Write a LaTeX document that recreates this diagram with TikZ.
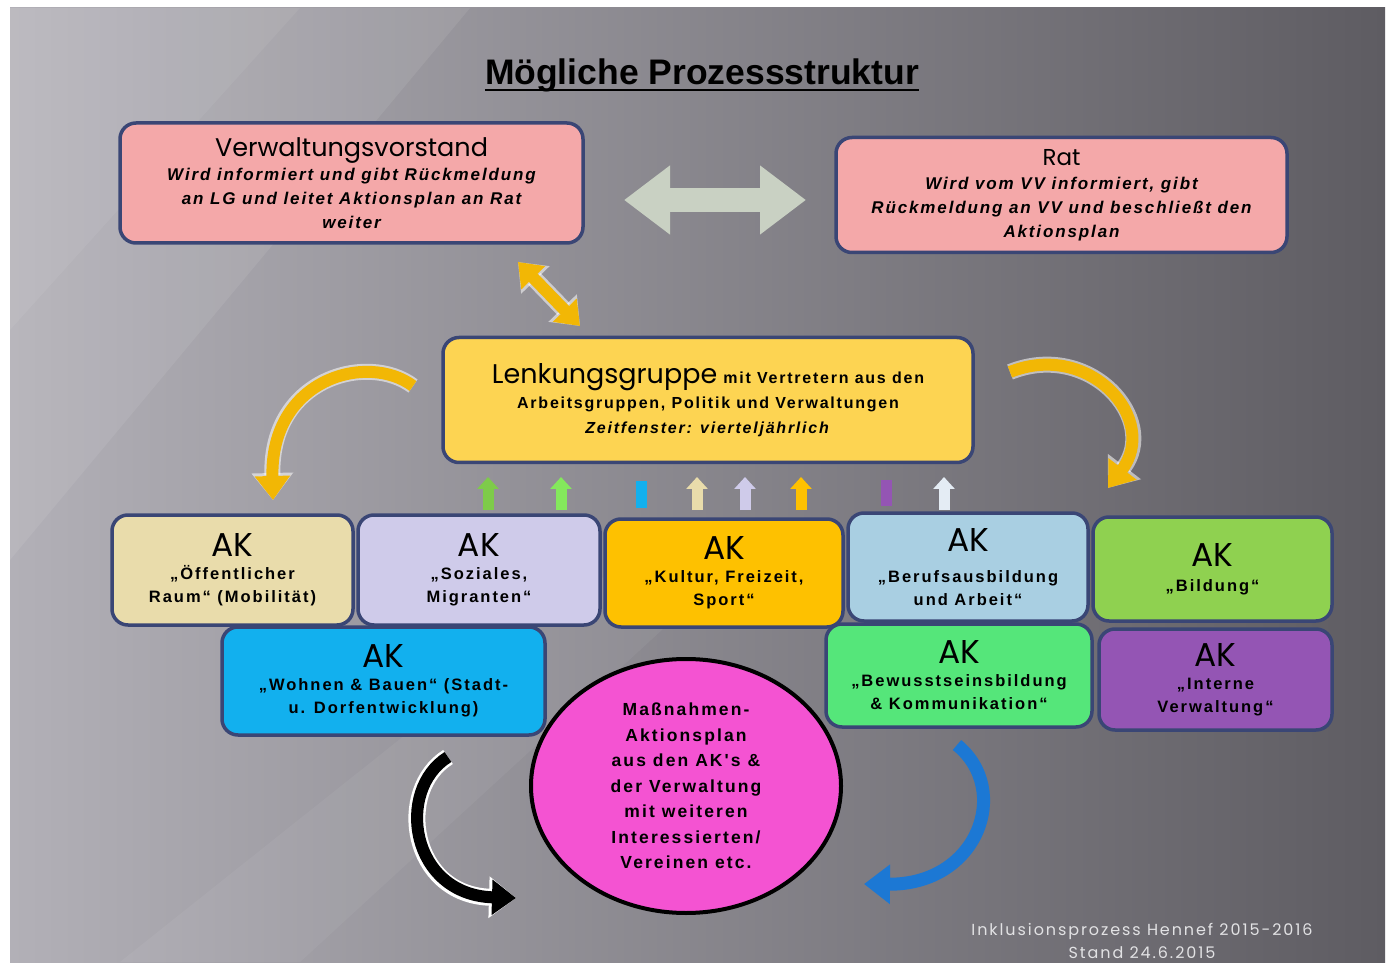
\documentclass[tikz,border=0pt]{standalone}
\usepackage{fontspec}
\setmainfont{Liberation Sans}
\newfontfamily\gothic{Poppins}
\newfontfamily\gothicsp[LetterSpace=12]{Poppins}
\newfontfamily\spA[LetterSpace=11]{Liberation Sans}
\newfontfamily\spB[LetterSpace=12]{Liberation Sans}
\newfontfamily\titlefont{Liberation Sans}
\usetikzlibrary{arrows.meta,shapes.geometric}
\definecolor{bgL}{HTML}{B2B0B7}
\definecolor{bgM}{HTML}{88868C}
\definecolor{bgR}{HTML}{5E5C62}
\definecolor{bordc}{HTML}{3A4675}
\definecolor{pinkc}{HTML}{F4A8A9}
\definecolor{yelc}{HTML}{FDD452}
\definecolor{beigec}{HTML}{E9DCAB}
\definecolor{lavc}{HTML}{CFCBEA}
\definecolor{orc}{HTML}{FEC100}
\definecolor{lbluec}{HTML}{A9CFE2}
\definecolor{grc}{HTML}{8FD150}
\definecolor{cyanc}{HTML}{12B0EE}
\definecolor{mintc}{HTML}{55E67A}
\definecolor{purc}{HTML}{9455B4}
\definecolor{magc}{HTML}{F453D2}
\definecolor{arrgray}{HTML}{C9D1C3}
\definecolor{arror}{HTML}{F2B705}
\definecolor{arrblue}{HTML}{1C78D4}
\definecolor{footc}{HTML}{E2E2E4}
\definecolor{upg1}{HTML}{7ECB4A}
\definecolor{upg2}{HTML}{84E85C}
\definecolor{upwh}{HTML}{E4ECF4}
\begin{document}
\begin{tikzpicture}[x=1pt,y=-1pt,
  box/.style={draw=bordc, line width=3.5pt, rounded corners=16pt, align=center, inner sep=0pt},
  akbox/.style={box, font=\spB\bfseries\fontsize{16.5}{23}\selectfont},
  upar/.style={line width=11pt, -{Triangle[length=12pt,width=21pt]}},
  upbar/.style={line width=11pt},
  halo/.style={draw=white, draw opacity=0.55},
  bigtip/.style={-{Triangle[length=24pt,width=34pt]}},
  halotip/.style={-{Triangle[length=27pt,width=40pt]}}]
\newcommand\AKhead{{\gothic\mdseries\fontsize{33}{28}\selectfont AK}}
\useasboundingbox (0,0) rectangle (1393,965);
\fill[white] (0,0) rectangle (1393,965);
\shade[left color=bgL, middle color=bgM, right color=bgR] (10,8) rectangle (1385,962);
\fill[white, opacity=0.08] (10,8) -- (470,8) -- (10,560) -- cycle;
\fill[white, opacity=0.06] (10,8) -- (300,8) -- (10,330) -- cycle;
\fill[white, opacity=0.05] (120,962) -- (300,962) -- (760,540) -- (650,540) -- cycle;

% title
\node[anchor=base, inner sep=0pt, font=\titlefont\bfseries\fontsize{35.5}{37}\selectfont] (title) at (702,85) {Mögliche Prozessstruktur};
\draw[line width=2.5pt] ([yshift=-5pt]title.base west) -- ([yshift=-5pt]title.base east);

% top boxes
\node[box, fill=pinkc, minimum width=463pt, minimum height=120pt, font=\spA\bfseries\itshape\fontsize{17}{24}\selectfont] (vv) at (351.5,183)
  {{\gothic\upshape\mdseries\fontsize{25.5}{25}\selectfont Verwaltungsvorstand}\\Wird informiert und gibt Rückmeldung\\an LG und leitet Aktionsplan an Rat\\weiter};
\node[box, fill=pinkc, minimum width=451pt, minimum height=115pt, font=\spA\bfseries\itshape\fontsize{17}{24}\selectfont] (rat) at (1061.5,195)
  {{\gothic\upshape\mdseries\fontsize{23}{25}\selectfont Rat}\\Wird vom VV informiert, gibt\\Rückmeldung an VV und beschließt den\\Aktionsplan};

% Lenkungsgruppe
\node[box, fill=yelc, minimum width=530pt, minimum height=125pt, font=\spA\bfseries\fontsize{16}{25}\selectfont] (lg) at (708,400)
  {{\gothic\mdseries\fontsize{27}{27}\selectfont Lenkungsgruppe} mit Vertretern aus den\\Arbeitsgruppen, Politik und Verwaltungen\\\textit{Zeitfenster: vierteljährlich}};

% AK row 1
\node[akbox, fill=beigec, minimum width=241pt, minimum height=110pt] (ak1) at (232.5,570)
  {\AKhead\\„Öffentlicher\\Raum“ (Mobilität)};
\node[akbox, fill=lavc, minimum width=242pt, minimum height=110pt] (ak2) at (479,570)
  {\AKhead\\„Soziales,\\Migranten“};
\node[akbox, fill=orc, minimum width=238pt, minimum height=108pt] (ak3) at (724,573)
  {\AKhead\\„Kultur, Freizeit,\\Sport“};
\node[akbox, fill=lbluec, minimum width=240pt, minimum height=108pt] (ak4) at (968,567)
  {\AKhead\\[8pt]„Berufsausbildung\\und Arbeit“};
\node[akbox, fill=grc, minimum width=239pt, minimum height=104pt] (ak5) at (1212.5,569)
  {\AKhead\\[2pt]„Bildung“};

% AK row 2
\node[akbox, fill=cyanc, minimum width=323pt, minimum height=108pt] (ak6) at (383.5,681)
  {\AKhead\\„Wohnen \& Bauen“ (Stadt-\\u. Dorfentwicklung)};
\node[akbox, fill=mintc, minimum width=266pt, minimum height=103pt] (ak7) at (959,675.5)
  {\AKhead\\„Bewusstseinsbildung\\\& Kommunikation“};
\node[akbox, fill=purc, minimum width=233pt, minimum height=101pt] (ak8) at (1215.5,679.5)
  {\AKhead\\„Interne\\Verwaltung“};

% circle
\node[ellipse, draw=black, line width=4pt, fill=magc, minimum width=310pt, minimum height=254pt, inner sep=0pt, align=center,
  font=\spB\bfseries\fontsize{17.5}{25.5}\selectfont] (plan) at (686,786)
  {Maßnahmen-\\Aktionsplan\\aus den AK's \&\\der Verwaltung\\mit weiteren\\Interessierten/\\Vereinen etc.};

% footer
\node[font=\gothicsp\fontsize{16}{23}\selectfont, text=footc, align=center] (foot) at (1142,941) {Inklusionsprozess Hennef 2015-2016\\Stand 24.6.2015};

% arrow endpoints
\coordinate (ga1) at (624,200); \coordinate (ga2) at (806,200);
\coordinate (oa1) at (518,262); \coordinate (oa2) at (580,326);
\coordinate (lc1) at (413,386); \coordinate (lc2) at (273,500);
\coordinate (rc1) at (1010,372); \coordinate (rc2) at (1108,488);
\coordinate (bc1) at (448,757); \coordinate (bc2) at (516,898);
\coordinate (uc1) at (957,745); \coordinate (uc2) at (864,884);

% grey double arrow VV <-> Rat
\draw[line width=24pt, draw=arrgray, {Triangle[length=46pt,width=66pt]}-{Triangle[length=46pt,width=66pt]}] (ga1) -- (ga2);
% orange double arrow VV <-> LG
\draw[halo, line width=17pt, {Triangle[length=25pt,width=38pt]}-{Triangle[length=25pt,width=38pt]}] (oa1) -- (oa2);
\draw[arror, line width=12pt, {Triangle[length=22pt,width=32pt]}-{Triangle[length=22pt,width=32pt]}] (oa1) -- (oa2);

% curved orange arrows
\draw[halo, line width=16pt, halotip] (lc1) .. controls (368,352) and (270,378) .. (lc2);
\draw[arror, line width=12pt, bigtip] (lc1) .. controls (368,352) and (270,378) .. (lc2);
\draw[halo, line width=16pt, halotip] (rc1) .. controls (1090,340) and (1160,420) .. (rc2);
\draw[arror, line width=12pt, bigtip] (rc1) .. controls (1090,340) and (1160,420) .. (rc2);

% black curved arrow
\draw[draw=white, line width=17pt, halotip] (bc1) .. controls (395,790) and (410,895) .. (bc2);
\draw[black, line width=12pt, bigtip] (bc1) .. controls (395,790) and (410,895) .. (bc2);
% blue curved arrow
\draw[arrblue, line width=13pt, -{Triangle[length=26pt,width=38pt]}] (uc1) .. controls (1012,790) and (978,885) .. (uc2);

% small up arrows into Lenkungsgruppe
\coordinate (s1) at (488,510); \coordinate (e1) at (488,477);
\coordinate (s2) at (561,510); \coordinate (e2) at (561,477);
\coordinate (s3) at (641,508); \coordinate (e3) at (641,481);
\coordinate (s4) at (697,510); \coordinate (e4) at (697,477);
\coordinate (s5) at (745,510); \coordinate (e5) at (745,477);
\coordinate (s6) at (801,510); \coordinate (e6) at (801,477);
\coordinate (s7) at (886,506); \coordinate (e7) at (886,480);
\coordinate (s8) at (944,510); \coordinate (e8) at (944,477);
\draw[upar, upg1] (s1) -- (e1);
\draw[upar, upg2] (s2) -- (e2);
\draw[upbar, cyanc] (s3) -- (e3);
\draw[upar, beigec] (s4) -- (e4);
\draw[upar, lavc] (s5) -- (e5);
\draw[upar, orc] (s6) -- (e6);
\draw[upbar, purc] (s7) -- (e7);
\draw[upar, upwh] (s8) -- (e8);
\end{tikzpicture}
\end{document}
